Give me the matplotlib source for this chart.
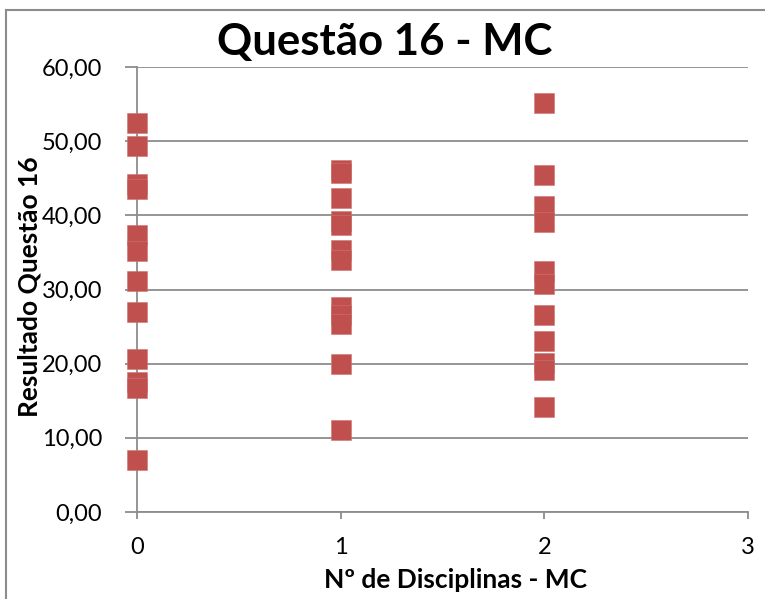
import matplotlib.pyplot as plt
from matplotlib.ticker import FuncFormatter
from matplotlib.lines import Line2D

# number of MC courses taken (x) and result for question 16 (y)
disc_0 = [52.5, 49.3, 44.2, 43.6, 37.4, 35.2, 31.2, 26.9, 20.6, 17.5, 16.7, 7.0]
disc_1 = [46.1, 45.7, 42.3, 39.2, 38.7, 35.3, 34.0, 27.6, 26.5, 25.4, 19.9, 11.0]
disc_2 = [55.2, 45.4, 41.3, 39.1, 32.5, 30.8, 26.6, 23.0, 20.1, 19.2, 14.2]

x_vals = [0] * len(disc_0) + [1] * len(disc_1) + [2] * len(disc_2)
y_vals = disc_0 + disc_1 + disc_2

title = "Questão 16 - MC"
x_label = "Nº de Disciplinas - MC"
y_label = "Resultado Questão 16"

plt.rcParams["font.family"] = ["Lato", "DejaVu Sans"]

fig = plt.figure(figsize=(7.65, 5.99), dpi=100)
ax = fig.add_axes([137 / 765, 1 - 512 / 599, (748 - 137) / 765, (512 - 67) / 599])

ax.scatter(x_vals, y_vals, marker="s", s=205, color="#C0504D",
           edgecolors="#CF7371", linewidths=0.4, zorder=3, clip_on=False)

ax.set_xlim(0, 3)
ax.set_ylim(0, 60)
ax.set_xticks([0, 1, 2, 3])
ax.set_yticks(range(0, 61, 10))
ax.yaxis.set_major_formatter(FuncFormatter(lambda v, p: f"{v:.2f}".replace(".", ",")))

ax.grid(axis="y", color="#8C8C8C", linewidth=1.3, zorder=0)
for side in ["top", "right"]:
    ax.spines[side].set_visible(False)
for side in ["left", "bottom"]:
    ax.spines[side].set_color("#8C8C8C")
    ax.spines[side].set_linewidth(1.3)
    ax.spines[side].set_zorder(1)

ax.tick_params(axis="y", length=9, width=1.3, color="#8C8C8C", labelsize=17, pad=16)
ax.tick_params(axis="x", length=5, width=1.3, color="#8C8C8C", labelsize=17, pad=13)

fig.text(456 / 765, 1 - 580 / 599, x_label, ha="center", va="center",
         fontsize=19, fontweight="bold")
fig.text(30 / 765, 1 - 287 / 599, y_label, ha="center", va="center",
         rotation=90, fontsize=19, fontweight="bold")
fig.text(385 / 765, 1 - 42 / 599, title, ha="center", va="center",
         fontsize=31.5, fontweight="bold")

# outer chart frame (only left and top edges visible)
fig.add_artist(Line2D([6 / 765, 6 / 765], [0, 1 - 10 / 599], transform=fig.transFigure,
                      color="#8C8C8C", linewidth=1.5))
fig.add_artist(Line2D([6 / 765, 1], [1 - 10 / 599, 1 - 10 / 599], transform=fig.transFigure,
                      color="#8C8C8C", linewidth=1.5))

fig.savefig("out.png", dpi=100)
